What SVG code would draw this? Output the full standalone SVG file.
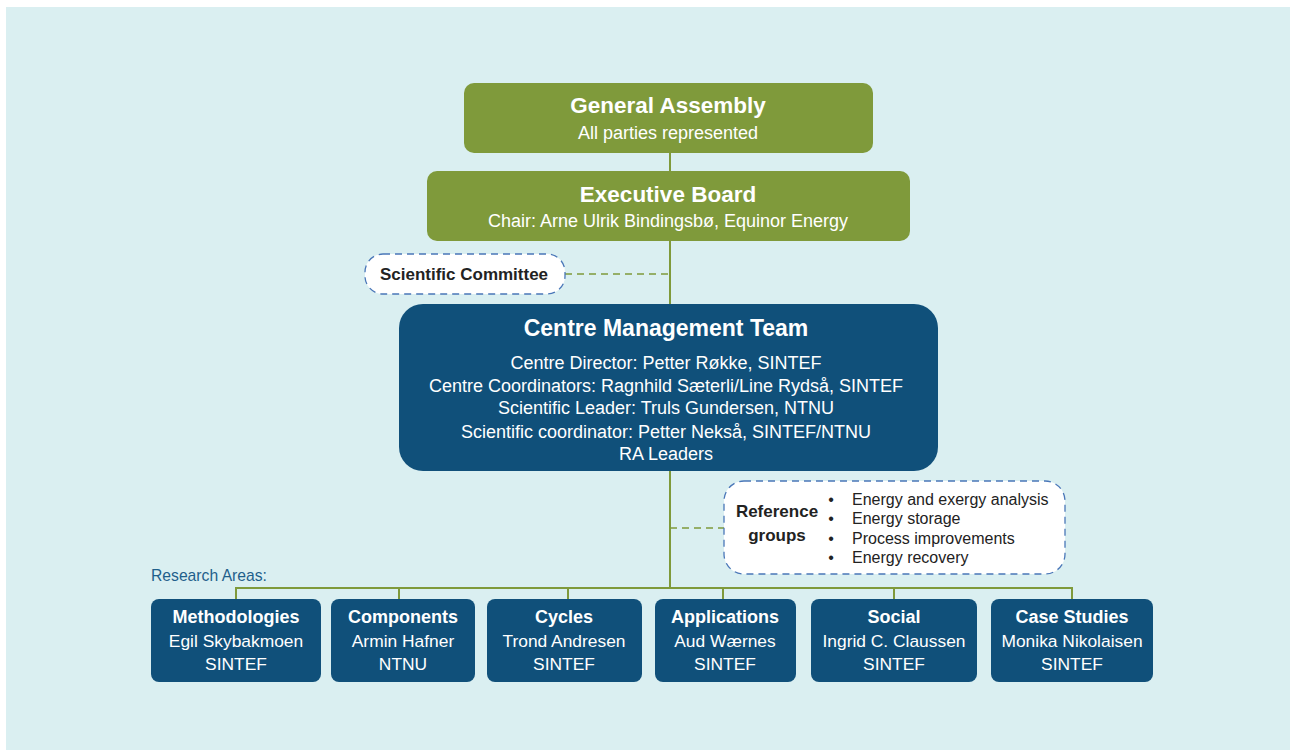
<svg xmlns="http://www.w3.org/2000/svg" width="1290" height="750" viewBox="0 0 1290 750">
<style>
text{font-family:"Liberation Sans",Arial,sans-serif;text-anchor:middle}
.w{fill:#ffffff}
.t{font-weight:bold;font-size:22.5px}
.s{font-size:18px}
.g{fill:#7F9A3B}
.n{fill:#10507A}
.dash{fill:#ffffff;stroke:#4A77B8;stroke-width:1.3;stroke-dasharray:7 5}
.ln{stroke:#7F9A3B;stroke-width:2;fill:none}
.dl{stroke:#7F9A3B;stroke-width:1.3;stroke-dasharray:7 5;fill:none}
.rt{font-weight:bold;font-size:18px}
.rs{font-size:17.4px}
.k{fill:#222222}
</style>
<rect x="0" y="0" width="1290" height="750" fill="#ffffff"/>
<rect x="6" y="7" width="1284" height="743" fill="#DAEFF1"/>
<g id="connectors">
<line class="ln" x1="670" y1="153" x2="670" y2="589"/>
<line class="dl" x1="565" y1="274" x2="670" y2="274"/>
<line class="dl" x1="670" y1="528" x2="724" y2="528"/>
<polyline class="ln" points="236,600 236,588 1072,588 1072,600"/>
<line class="ln" x1="399" y1="588" x2="399" y2="600"/>
<line class="ln" x1="568" y1="588" x2="568" y2="600"/>
<line class="ln" x1="723" y1="588" x2="723" y2="600"/>
<line class="ln" x1="894" y1="588" x2="894" y2="600"/>
</g>
<g id="general-assembly">
<rect class="g" x="464" y="83" width="409" height="70" rx="10"/>
<text class="w t" x="668" y="113">General Assembly</text>
<text class="w s" x="668" y="139">All parties represented</text>
</g>
<g id="executive-board">
<rect class="g" x="427" y="171" width="483" height="70" rx="10"/>
<text class="w t" x="668" y="202">Executive Board</text>
<text class="w s" x="668" y="227">Chair: Arne Ulrik Bindingsbø, Equinor Energy</text>
</g>
<g id="scientific-committee">
<rect class="dash" x="365" y="254" width="200" height="40" rx="18"/>
<text class="k" x="464" y="280" style="font-weight:bold;font-size:17px">Scientific Committee</text>
</g>
<g id="centre-management-team">
<rect class="n" x="399" y="304" width="539" height="167" rx="24"/>
<text class="w t" x="666" y="336" style="font-size:23px">Centre Management Team</text>
<text class="w s" x="666" y="369">Centre Director: Petter Røkke, SINTEF</text>
<text class="w s" x="666" y="392">Centre Coordinators: Ragnhild Sæterli/Line Rydså, SINTEF</text>
<text class="w s" x="666" y="414">Scientific Leader: Truls Gundersen, NTNU</text>
<text class="w s" x="666" y="438">Scientific coordinator: Petter Nekså, SINTEF/NTNU</text>
<text class="w s" x="666" y="460">RA Leaders</text>
</g>
<g id="reference-groups">
<rect class="dash" x="724" y="481" width="341" height="93" rx="20"/>
<text class="k" x="777" y="517" style="font-weight:bold;font-size:17px">Reference</text>
<text class="k" x="777" y="541" style="font-weight:bold;font-size:17px">groups</text>
<g class="k" style="font-size:16px">
<text x="831" y="505">•</text><text x="852" y="505" style="text-anchor:start">Energy and exergy analysis</text>
<text x="831" y="524">•</text><text x="852" y="524" style="text-anchor:start">Energy storage</text>
<text x="831" y="544">•</text><text x="852" y="544" style="text-anchor:start">Process improvements</text>
<text x="831" y="563">•</text><text x="852" y="563" style="text-anchor:start">Energy recovery</text>
</g>
</g>
<text x="151" y="581" style="text-anchor:start;font-size:15.7px;fill:#1F5F8B">Research Areas:</text>
<g id="methodologies">
<rect class="n" x="151" y="599" width="170" height="83" rx="8"/>
<text class="w rt" x="236" y="623">Methodologies</text>
<text class="w rs" x="236" y="647">Egil Skybakmoen</text>
<text class="w rs" x="236" y="670">SINTEF</text>
</g>
<g id="components">
<rect class="n" x="331" y="599" width="144" height="83" rx="8"/>
<text class="w rt" x="403" y="623">Components</text>
<text class="w rs" x="403" y="647">Armin Hafner</text>
<text class="w rs" x="403" y="670">NTNU</text>
</g>
<g id="cycles">
<rect class="n" x="487" y="599" width="155" height="83" rx="8"/>
<text class="w rt" x="564" y="623">Cycles</text>
<text class="w rs" x="564" y="647">Trond Andresen</text>
<text class="w rs" x="564" y="670">SINTEF</text>
</g>
<g id="applications">
<rect class="n" x="655" y="599" width="141" height="83" rx="8"/>
<text class="w rt" x="725" y="623">Applications</text>
<text class="w rs" x="725" y="647">Aud Wærnes</text>
<text class="w rs" x="725" y="670">SINTEF</text>
</g>
<g id="social">
<rect class="n" x="811" y="599" width="166" height="83" rx="8"/>
<text class="w rt" x="894" y="623">Social</text>
<text class="w rs" x="894" y="647">Ingrid C. Claussen</text>
<text class="w rs" x="894" y="670">SINTEF</text>
</g>
<g id="case-studies">
<rect class="n" x="991" y="599" width="162" height="83" rx="8"/>
<text class="w rt" x="1072" y="623">Case Studies</text>
<text class="w rs" x="1072" y="647">Monika Nikolaisen</text>
<text class="w rs" x="1072" y="670">SINTEF</text>
</g>
</svg>
